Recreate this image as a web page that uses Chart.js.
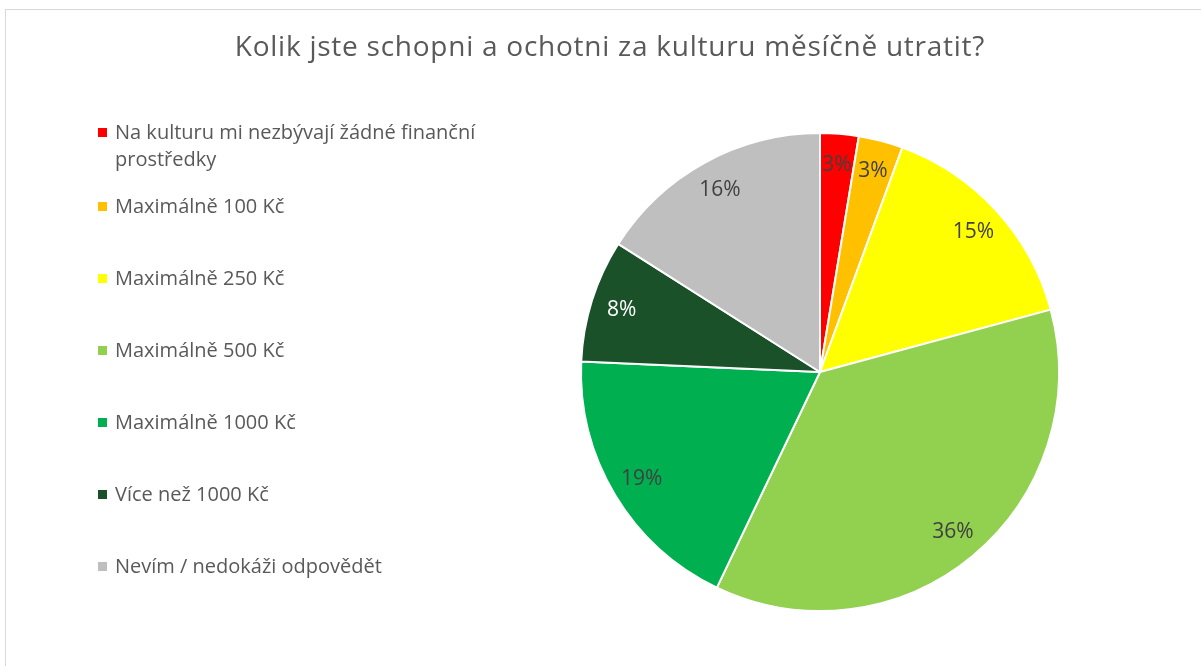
<!DOCTYPE html>
<html>
<head>
<meta charset="utf-8">
<script src="https://cdn.jsdelivr.net/npm/chart.js@4"></script>
<style>
  body { margin: 0; background: #fff; overflow: hidden; }
  #frame { position: absolute; left: 5px; top: 9px; width: 1300px; height: 800px; border: 1px solid #d9d9d9; }
  #wrap { position: absolute; left: 0; top: 0; width: 1201px; height: 666px; }
</style>
</head>
<body>
<div id="frame"></div>
<div id="wrap"><canvas id="pieChart" width="1201" height="666"></canvas></div>
<script>
// === Données ===
const title = "Kolik jste schopni a ochotni za kulturu měsíčně utratit?";
const categories = [
  "Na kulturu mi nezbývají žádné finanční prostředky",
  "Maximálně 100 Kč",
  "Maximálně 250 Kč",
  "Maximálně 500 Kč",
  "Maximálně 1000 Kč",
  "Více než 1000 Kč",
  "Nevím / nedokáži odpovědět"
];
const shares = [2.6, 3.0, 15.2, 36.3, 18.6, 8.3, 16.0];
const sliceColors = ["#ff0000", "#ffc000", "#ffff00", "#92d050", "#00b050", "#1b5128", "#bfbfbf"];
const labelColors = ["#404040", "#404040", "#404040", "#404040", "#404040", "#ffffff", "#404040"];

const FONT = "'Open Sans', sans-serif";

// titre + légende dessinés à la main (placement type Excel)
const excelLayout = {
  id: "excelLayout",
  afterDraw(chart) {
    const ctx = chart.ctx;
    ctx.save();
    ctx.fillStyle = "#595959";
    ctx.font = "28px " + FONT;
    ctx.letterSpacing = "0.75px";
    ctx.textAlign = "center";
    ctx.textBaseline = "middle";
    ctx.fillText(title, 610, 48);
    ctx.letterSpacing = "0px";

    // légende
    ctx.font = "20px " + FONT;
    ctx.textAlign = "left";
    let y = 133;
    chart.data.labels.forEach((lbl, i) => {
      const words = lbl.split(" ");
      const lines = [];
      let cur = "";
      words.forEach(w => {
        const test = cur ? cur + " " + w : w;
        if (ctx.measureText(test).width > 380 && cur) {
          lines.push(cur);
          cur = w;
        } else {
          cur = test;
        }
      });
      lines.push(cur);
      ctx.fillStyle = sliceColors[i];
      ctx.fillRect(98, y - 5, 9, 9);
      ctx.fillStyle = "#595959";
      lines.forEach((line, k) => ctx.fillText(line, 115, y + k * 27));
      y += (lines.length - 1) * 27 + (i === 0 ? 47 : 72);
    });

    // étiquettes de pourcentage
    ctx.font = "21px " + FONT;
    ctx.textAlign = "center";
    const meta = chart.getDatasetMeta(0);
    meta.data.forEach((arc, i) => {
      const mid = (arc.startAngle + arc.endAngle) / 2;
      const r = arc.outerRadius * 0.87;
      ctx.fillStyle = labelColors[i];
      ctx.fillText(Math.round(shares[i]) + "%", arc.x + Math.cos(mid) * r, arc.y + Math.sin(mid) * r);
    });
    ctx.restore();
  }
};

new Chart(document.getElementById("pieChart"), {
  type: "pie",
  data: {
    labels: categories,
    datasets: [{
      data: shares,
      backgroundColor: sliceColors,
      borderColor: "#ffffff",
      borderWidth: 2
    }]
  },
  options: {
    responsive: false,
    animation: false,
    layout: { padding: { left: 580, right: 141, top: 132, bottom: 54 } },
    plugins: {
      legend: { display: false },
      title: { display: false },
      tooltip: { enabled: false }
    }
  },
  plugins: [excelLayout]
});
</script>
</body>
</html>
